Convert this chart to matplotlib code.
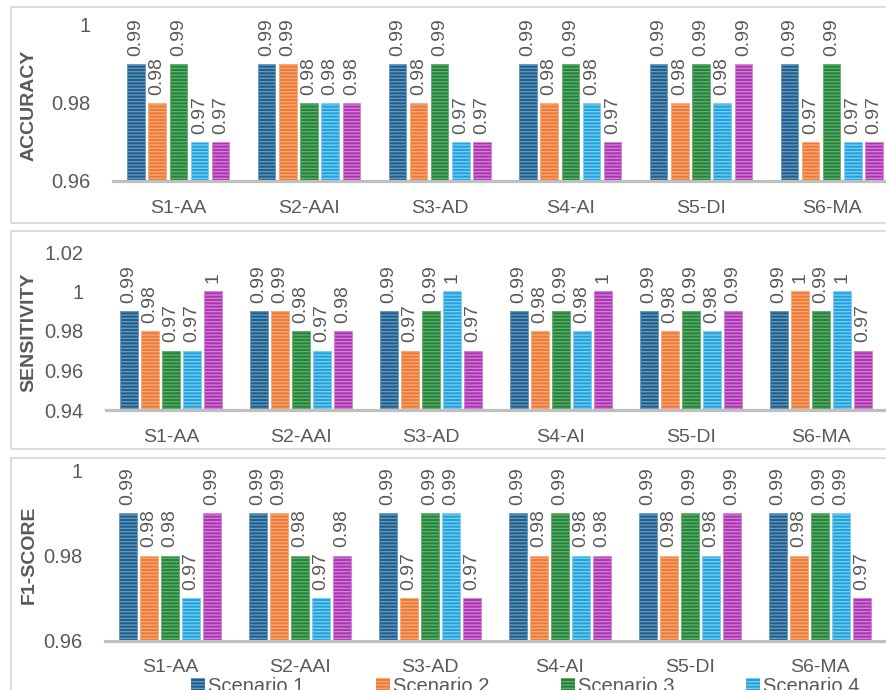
import matplotlib
matplotlib.use("Agg")
import matplotlib.pyplot as plt
import numpy as np
from matplotlib.patches import Rectangle, Patch

# ---- data -------------------------------------------------------------
categories = ["S1-AA", "S2-AAI", "S3-AD", "S4-AI", "S5-DI", "S6-MA"]
scenarios = ["Scenario 1", "Scenario 2", "Scenario 3", "Scenario 4", "Scenario 5"]

# rows = scenarios, columns = categories
accuracy = [
    [0.99, 0.99, 0.99, 0.99, 0.99, 0.99],
    [0.98, 0.99, 0.98, 0.98, 0.98, 0.97],
    [0.99, 0.98, 0.99, 0.99, 0.99, 0.99],
    [0.97, 0.98, 0.97, 0.98, 0.98, 0.97],
    [0.97, 0.98, 0.97, 0.97, 0.99, 0.97],
]
sensitivity = [
    [0.99, 0.99, 0.99, 0.99, 0.99, 0.99],
    [0.98, 0.99, 0.97, 0.98, 0.98, 1.00],
    [0.97, 0.98, 0.99, 0.99, 0.99, 0.99],
    [0.97, 0.97, 1.00, 0.98, 0.98, 1.00],
    [1.00, 0.98, 0.97, 1.00, 0.99, 0.97],
]
f1_score = [
    [0.99, 0.99, 0.99, 0.99, 0.99, 0.99],
    [0.98, 0.99, 0.97, 0.98, 0.98, 0.98],
    [0.98, 0.98, 0.99, 0.99, 0.99, 0.99],
    [0.97, 0.97, 0.99, 0.98, 0.98, 0.99],
    [0.99, 0.98, 0.97, 0.98, 0.99, 0.97],
]

accuracy_ticks = [0.96, 0.98, 1.00]
sensitivity_ticks = [0.94, 0.96, 0.98, 1.00, 1.02]
f1_ticks = [0.96, 0.98, 1.00]

# ---- style ------------------------------------------------------------
plt.rcParams["font.family"] = ["Liberation Sans", "DejaVu Sans"]
plt.rcParams["hatch.linewidth"] = 0.9

face_colors = ["#1f5f8c", "#ee7a36", "#23843a", "#20a3dc", "#ab36b1"]
stripe_colors = ["#6a9ac0", "#f6ab7c", "#66ae72", "#7fcdf0", "#d283d6"]
TEXT = "#595959"

W, H = 886, 690
fig = plt.figure(figsize=(W / 100, H / 100), dpi=100)


def px_rect(left, right, top, bottom):
    return [left / W, 1 - bottom / H, (right - left) / W, (bottom - top) / H]


# panel frames
for top, bottom in [(7, 223), (231, 449), (458, 740)]:
    fig.add_artist(Rectangle((11 / W, 1 - bottom / H), 920 / W, (bottom - top) / H,
                             transform=fig.transFigure, fill=False,
                             edgecolor="#d9d9d9", linewidth=1.3, zorder=0))

panels = [
    ("ACCURACY", accuracy, accuracy_ticks, (113, 897, 25, 181), 105),
    ("SENSITIVITY", sensitivity, sensitivity_ticks, (106, 886, 252, 410), 332),
    ("F1-SCORE", f1_score, f1_ticks, (105, 885, 471, 640.5), 555),
]

x = np.arange(len(categories))
pitch = 0.162
width = 0.135

for title, values, ticks, box, label_y in panels:
    ax = fig.add_axes(px_rect(*box))
    ax.patch.set_alpha(0)
    for i, (row, fc, sc) in enumerate(zip(values, face_colors, stripe_colors)):
        pos = x + (i - 2) * pitch
        ax.bar(pos, row, width=width, bottom=0, color=fc, edgecolor=sc,
               linewidth=0.6, zorder=2)
        ax.bar(pos, row, width=width, bottom=0, fill=False, edgecolor=sc,
               hatch="-----", linewidth=0, zorder=3)
        for px_, v in zip(pos, row):
            ax.annotate(f"{v:g}", (px_, v), xytext=(0, 6), textcoords="offset points",
                        rotation=90, ha="center", va="bottom", fontsize=14,
                        color=TEXT, annotation_clip=False)
    ax.set_ylim(ticks[0], ticks[-1])
    ax.set_xlim(-0.5, len(categories) - 0.5)
    ax.set_yticks(ticks)
    ax.set_yticklabels([f"{t:g}" for t in ticks])
    ax.set_xticks(x)
    ax.set_xticklabels(categories)
    ax.tick_params(axis="y", length=0, pad=16, labelsize=14.5, labelcolor=TEXT)
    ax.tick_params(axis="x", length=0, pad=13.5, labelsize=14, labelcolor=TEXT)
    for side in ("top", "right", "left"):
        ax.spines[side].set_visible(False)
    ax.spines["bottom"].set_color("#bfbfbf")
    ax.spines["bottom"].set_linewidth(2.3)
    ax.spines["bottom"].set_zorder(4)
    ax.set_ylabel(title, fontsize=14, fontweight="bold", color=TEXT)
    ax.yaxis.set_label_coords(37.5 / W, 1 - label_y / H, transform=fig.transFigure)

handles = [Patch(facecolor=fc, edgecolor=sc, hatch="-----", linewidth=0)
           for fc, sc in zip(face_colors, stripe_colors)]
fig.legend(handles, scenarios, loc="upper left",
           bbox_to_anchor=(191 / W, 1 - 677 / H), ncol=5, frameon=False,
           fontsize=14.5, handlelength=0.7, handleheight=0.7,
           handletextpad=0.15, columnspacing=3.55, borderaxespad=0,
           borderpad=0, labelcolor=TEXT)

fig.savefig("out.png", dpi=100)
